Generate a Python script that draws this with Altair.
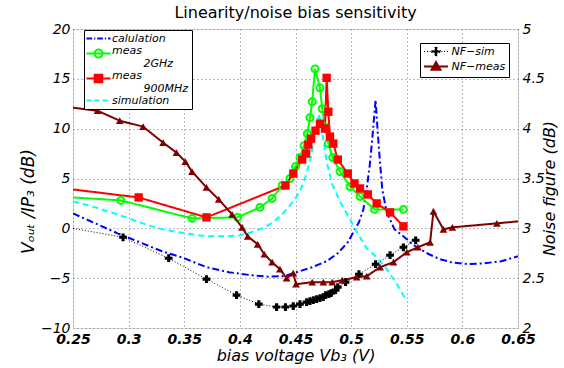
import altair as alt
import pandas as pd

FONT = "DejaVu Sans"

# ---------------- data ----------------
x_ticks = [0.25, 0.3, 0.35, 0.4, 0.45, 0.5, 0.55, 0.6, 0.65]
left_ticks = [-10, -5, 0, 5, 10, 15, 20]
right_ticks = [2, 2.5, 3, 3.5, 4, 4.5, 5]

left_names = ["calulation", "meas_2GHz", "meas_900MHz", "simulation"]
left_colors = ["#0000ff", "#00ff00", "#ff0000", "#00ffff"]
nf_names = ["NF-sim", "NF-meas"]
nf_colors = ["#000000", "#800000"]

calc_x = [0.25, 0.27, 0.29, 0.31, 0.33, 0.35, 0.37, 0.39, 0.41, 0.425, 0.44, 0.451,
          0.465, 0.478, 0.488, 0.497, 0.502, 0.507, 0.511, 0.514, 0.517, 0.519, 0.522,
          0.524, 0.526, 0.528, 0.532, 0.539, 0.547, 0.555, 0.562, 0.57, 0.58, 0.59,
          0.605, 0.62, 0.635, 0.65]
calc_y = [1.5, 0.5, -0.5, -1.4, -2.3, -3.0, -3.9, -4.4, -4.7, -4.85, -4.8, -4.4,
          -3.9, -3.3, -2.5, -1.4, -0.4, 0.6, 1.9, 3.9, 6.6, 9.0, 12.9,
          9.5, 6.6, 3.9, 1.6, -0.1, -0.8, -1.6, -2.1, -2.6, -3.1, -3.4,
          -3.6, -3.5, -3.3, -2.8]

m2_x = [0.25, 0.293, 0.357, 0.398, 0.418, 0.429, 0.438, 0.445, 0.45, 0.454, 0.4576,
        0.4606, 0.463, 0.465, 0.4675, 0.472, 0.474, 0.4765, 0.4795, 0.4834, 0.49,
        0.499, 0.508, 0.521, 0.547]
m2_y = [3.1, 2.8, 1.0, 1.1, 2.1, 3.0, 4.3, 5.0, 6.2, 7.1, 8.3,
        9.5, 11.1, 12.7, 16.0, 14.1, 12.0, 10.2, 8.5, 7.1, 5.7,
        4.2, 3.2, 1.9, 1.9]

m9_x = [0.25, 0.309, 0.37, 0.441, 0.448, 0.456, 0.4595, 0.4615, 0.464, 0.468, 0.472,
        0.4765, 0.478, 0.4795, 0.481, 0.484, 0.488, 0.497, 0.503, 0.508, 0.515,
        0.523, 0.535, 0.547]
m9_y = [3.9, 3.1, 1.1, 4.3, 5.5, 6.9, 7.5, 8.4, 9.0, 9.8, 10.5,
        10.0, 15.1, 11.7, 9.2, 8.5, 6.9, 5.5, 4.5, 4.0, 3.4,
        2.5, 1.6, 0.2]

sim_x = [0.25, 0.27, 0.29, 0.31, 0.33, 0.35, 0.37, 0.39, 0.40, 0.41, 0.42, 0.43,
         0.438, 0.445, 0.45, 0.455, 0.459, 0.463, 0.466, 0.469, 0.471, 0.473, 0.476,
         0.478, 0.483, 0.49, 0.499, 0.508, 0.514, 0.523, 0.532, 0.54, 0.55]
sim_y = [2.7, 2.1, 1.4, 0.6, -0.1, -0.5, -0.8, -0.8, -0.7, -0.4, 0.0, 0.6,
         1.4, 2.3, 3.0, 4.0, 5.2, 6.7, 8.5, 10.3, 11.5, 10.2, 8.2,
         6.7, 4.4, 2.7, 0.9, -0.9, -2.0, -2.9, -4.1, -5.4, -7.3]

nfs_x = [0.25, 0.295, 0.336, 0.37, 0.397, 0.417, 0.433, 0.441, 0.448, 0.454, 0.46,
         0.463, 0.466, 0.469, 0.472, 0.475, 0.477, 0.48, 0.482, 0.486, 0.488, 0.495,
         0.507, 0.522, 0.535, 0.547, 0.558]
nfs_y = [3.0, 2.91, 2.70, 2.49, 2.33, 2.24, 2.21, 2.21, 2.22, 2.24, 2.26,
         2.27, 2.28, 2.29, 2.30, 2.31, 2.33, 2.34, 2.35, 2.38, 2.41, 2.46,
         2.54, 2.64, 2.73, 2.81, 2.88]

nfm_x = [0.25, 0.272, 0.292, 0.313, 0.331, 0.343, 0.351, 0.357, 0.37, 0.381, 0.393,
         0.402, 0.407, 0.416, 0.422, 0.429, 0.436, 0.442, 0.448, 0.4505, 0.465, 0.475,
         0.483, 0.492, 0.505, 0.514, 0.526, 0.538, 0.55, 0.56, 0.571, 0.574, 0.583,
         0.591, 0.631, 0.65]
nfm_y = [4.21, 4.18, 4.08, 4.02, 3.86, 3.76, 3.67, 3.57, 3.41, 3.29, 3.14,
         3.01, 2.92, 2.84, 2.74, 2.66, 2.59, 2.50, 2.55, 2.44, 2.46, 2.46,
         2.46, 2.48, 2.51, 2.52, 2.61, 2.66, 2.76, 2.81, 2.86, 3.17, 2.99,
         3.01, 3.05, 3.07]


def frame(name, xs, ys):
    return pd.DataFrame({"series": name, "x": xs, "y": ys})


left_df = pd.concat([frame("calulation", calc_x, calc_y),
                     frame("meas_2GHz", m2_x, m2_y),
                     frame("meas_900MHz", m9_x, m9_y),
                     frame("simulation", sim_x, sim_y)], ignore_index=True)
nf_df = pd.concat([frame("NF-sim", nfs_x, nfs_y),
                   frame("NF-meas", nfm_x, nfm_y)], ignore_index=True)

inside = "datum.x > 0.2505 && datum.x < 0.6495"

# ---------------- legend helpers ----------------
def choose(mapping, default):
    expr = "'" + default + "'"
    for k, v in reversed(list(mapping.items())):
        expr = "datum.value === '" + k + "' ? '" + v + "' : " + expr
    return expr


# symbol unit = 4 px (symbolSize 64)
paths1 = {
    "calulation": "M-3,0H-1.6M-1.1,0H-0.8M-0.3,0H1.1M1.6,0H1.9M2.4,0H3",
    "meas_2GHz": "M-3,0H3M1,0A1,1,0,1,1,-1,0A1,1,0,1,1,1,0Z",
    "meas_900MHz": "M-3,0H3M-0.95,-0.95H0.95V0.95H-0.95Z",
    "simulation": "M-3,0H-1.75M-1,0H0.25M1,0H2.25",
}
fills1 = {"meas_900MHz": "#ff0000"}
strokes1 = dict(zip(left_names, left_colors))

paths2 = {
    "NF-sim": "M-3,0H-2.75M-2.25,0H-2M-1.6,0H-1.35M1.35,0H1.6M2,0H2.25M2.75,0H3"
              "M-1.1,-0.28H-0.28V-1.1H0.28V-0.28H1.1V0.28H0.28V1.1H-0.28V0.28H-1.1Z",
    "NF-meas": "M-3,0H3M0,-1.1L1.1,0.8H-1.1Z",
}
fills2 = {"NF-sim": "#000000", "NF-meas": "#800000"}
strokes2 = dict(zip(nf_names, nf_colors))

ind = "\u200b" + "\u00a0" * 9
label_expr1 = ("datum.label === 'meas_2GHz' ? ['meas', '" + ind + "2GHz'] : "
               "datum.label === 'meas_900MHz' ? ['meas', '" + ind + "900MHz'] : datum.label")

legend1 = alt.Legend(
    orient="none", legendX=11, legendY=1, title=None, direction="vertical",
    padding=3, rowPadding=0, strokeColor="black", fillColor="white",
    labelFont=FONT, labelFontSize=11, labelFontStyle="italic", labelColor="black",
    labelBaseline={"expr": "indexof(datum.label, 'meas_') === 0 ? 'alphabetic' : 'middle'"},
    symbolSize=64, symbolOffset=6, labelOffset=8, labelExpr=label_expr1,
    symbolType={"expr": choose(paths1, "circle")},
    symbolFillColor={"expr": choose(fills1, "transparent")},
    symbolStrokeColor={"expr": choose(strokes1, "black")},
    symbolStrokeWidth=2, symbolDash=[1, 0], symbolOpacity=1,
)

legend2 = alt.Legend(
    orient="none", legendX=347, legendY=14, title=None, direction="vertical",
    padding=3, rowPadding=0, strokeColor="black", fillColor="white",
    labelFont=FONT, labelFontSize=11, labelFontStyle="italic", labelColor="black",
    symbolSize=64, symbolOffset=7.5, labelOffset=10,
    labelExpr="replace(datum.label, '-', '\u2212')",
    symbolType={"expr": choose(paths2, "circle")},
    symbolFillColor={"expr": choose(fills2, "transparent")},
    symbolStrokeColor={"expr": choose(strokes2, "black")},
    symbolStrokeWidth={"expr": "datum.value === 'NF-sim' ? 1 : 2"},
    symbolDash=[1, 0], symbolOpacity=1,
)

# ---------------- encodings ----------------
xenc = alt.X(
    "x:Q",
    scale=alt.Scale(domain=[0.25, 0.65], nice=False, zero=False),
    axis=alt.Axis(
        values=x_ticks, format="~g", title="bias voltage Vb\u2083 (V)",
        grid=True, ticks=False, domain=False,
        labelFont=FONT, labelFontSize=14, labelFontWeight="bold", labelFontStyle="italic",
        labelColor="black", labelPadding=4, labelFlush=False, labelOverlap=False,
        titleFont=FONT, titleFontSize=16, titleFontStyle="italic", titleFontWeight="normal",
        titleColor="black", titlePadding=1,
        gridDash=[1, 3], gridColor="#777777", gridWidth=1, gridOpacity=1,
    ),
)

yleft = alt.Y(
    "y:Q",
    scale=alt.Scale(domain=[-10, 20], nice=False, zero=False),
    axis=alt.Axis(
        values=left_ticks, orient="left", title="V\u2092\u1d64\u209c /IP\u2083 (dB)",
        grid=True, ticks=False, domain=False,
        labelFont=FONT, labelFontSize=14, labelFontStyle="italic", labelColor="black",
        labelPadding=3, labelFlush=False, labelOverlap=False,
        titleFont=FONT, titleFontSize=17, titleFontStyle="italic", titleFontWeight="normal",
        titleColor="black", titleX=-45, titleY=172, titleBaseline="middle",
        gridDash=[1, 3], gridColor="#777777", gridWidth=1, gridOpacity=1,
    ),
)

yright = alt.Y(
    "y:Q",
    scale=alt.Scale(domain=[2, 5], nice=False, zero=False),
    axis=alt.Axis(
        values=right_ticks, orient="right", format="~g", title="Noise figure (dB)",
        grid=False, ticks=False, domain=False,
        labelFont=FONT, labelFontSize=14, labelFontStyle="italic", labelColor="black",
        labelPadding=4, labelFlush=False, labelOverlap=False,
        titleFont=FONT, titleFontSize=16, titleFontStyle="italic", titleFontWeight="normal",
        titleColor="black", titleAngle=270, titleX=31, titleY=159, titleBaseline="middle",
    ),
)

# ---------------- left axis layers ----------------
left_lines = alt.Chart(left_df).mark_line(clip=True).encode(
    x=xenc, y=yleft,
    color=alt.Color("series:N", scale=alt.Scale(domain=left_names, range=left_colors), legend=legend1),
    strokeDash=alt.StrokeDash("series:N", scale=alt.Scale(
        domain=left_names, range=[[7, 3, 2, 3], [1, 0], [1, 0], [6, 4]]), legend=None),
    strokeWidth=alt.value(2),
)

green_pts = alt.Chart(left_df).transform_filter(
    "datum.series === 'meas_2GHz' && " + inside
).mark_point(shape="circle", filled=False, size=48, strokeWidth=2, opacity=1, clip=True).encode(
    x=xenc, y=yleft, color=alt.value("#00ff00"))

red_pts = alt.Chart(left_df).transform_filter(
    "datum.series === 'meas_900MHz' && " + inside
).mark_point(shape="square", filled=True, size=70, opacity=1, clip=True).encode(
    x=xenc, y=yleft, color=alt.value("#ff0000"))

left = alt.layer(left_lines, green_pts, red_pts)

# ---------------- right axis layers ----------------
nf_lines = alt.Chart(nf_df).mark_line(clip=True).encode(
    x=xenc, y=yright,
    color=alt.Color("series:N", scale=alt.Scale(domain=nf_names, range=nf_colors), legend=legend2),
    strokeDash=alt.StrokeDash("series:N", scale=alt.Scale(
        domain=nf_names, range=[[1, 2], [1, 0]]), legend=None),
    strokeWidth=alt.StrokeWidth("series:N", scale=alt.Scale(domain=nf_names, range=[1, 2]), legend=None),
)

plus_pts = alt.Chart(nf_df).transform_filter(
    "datum.series === 'NF-sim' && " + inside
).mark_point(shape="cross", filled=True, size=60, opacity=1, clip=True).encode(
    x=xenc, y=yright, color=alt.value("#000000"))

tri_pts = alt.Chart(nf_df).transform_filter(
    "datum.series === 'NF-meas' && " + inside
).mark_point(shape="triangle-up", filled=True, size=60, opacity=1, clip=True).encode(
    x=xenc, y=yright, color=alt.value("#800000"))

right = alt.layer(nf_lines, plus_pts, tri_pts)

chart = alt.layer(left, right).resolve_scale(
    y="independent", color="independent", strokeDash="independent", strokeWidth="independent"
).properties(
    width=445, height=299,
    autosize=alt.AutoSizeParams(type="none"),
    padding={"left": 73, "top": 29, "right": 46, "bottom": 40},
    title=alt.TitleParams(
        "Linearity/noise bias sensitivity", font=FONT, fontSize=16, fontWeight="normal",
        color="black", anchor="middle", frame="group", offset=8, dy=7,
    ),
).configure_view(stroke="black", strokeWidth=2).configure(background="white")

chart.save("out.html", embed_options={"renderer": "svg", "actions": False})
